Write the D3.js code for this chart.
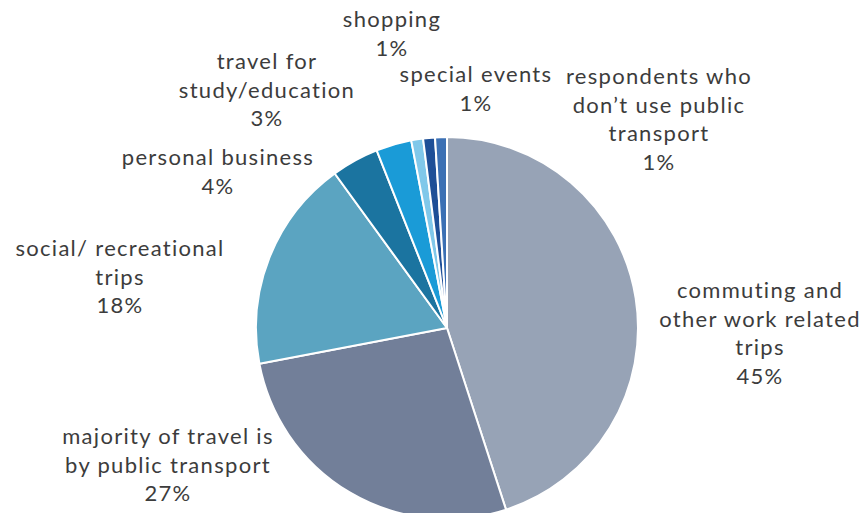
<!DOCTYPE html>
<html>
<head>
<meta charset="utf-8">
<script src="https://cdn.jsdelivr.net/npm/d3@7"></script>
<style>
  html, body { margin: 0; padding: 0; background: #ffffff; }
  svg { display: block; }
  .lbl { font-family: Lato, "Open Sans", sans-serif; font-size: 22px; letter-spacing: 1.3px; fill: #3c3c3c; }
</style>
</head>
<body>
<svg id="chart" width="864" height="513"></svg>
<script>
// Trip purposes, listed clockwise from 12 o'clock
const categories = [
  "commuting and other work related trips",
  "majority of travel is by public transport",
  "social/ recreational trips",
  "personal business",
  "travel for study/education",
  "shopping",
  "special events",
  "respondents who don't use public transport"
];
const values = [45, 27, 18, 4, 3, 1, 1, 1];
const colors = ["#97a3b6", "#727f99", "#5ba4c1", "#1b74a0", "#1a9bd7", "#80c8ea", "#1e4f97", "#3b70b4"];

// Wrapped label text for each category (percent line appended from values)
const labelLines = [
  ["commuting and", "other work related", "trips"],
  ["majority of travel is", "by public transport"],
  ["social/ recreational", "trips"],
  ["personal business"],
  ["travel for", "study/education"],
  ["shopping"],
  ["special events"],
  ["respondents who", "don\u2019t use public", "transport"]
];

// Label anchor (centre x, first baseline y)
const labelPos = [
  [760, 298], [168, 444], [120, 256], [218, 165],
  [267, 69], [392, 27], [476, 82], [659, 84]
];

const svg = d3.select("#chart");
const cx = 447, cy = 328, radius = 191;
const lineH = 28.6;

const pie = d3.pie().sort(null).value(d => d.value);
const arc = d3.arc().innerRadius(0).outerRadius(radius);
const color = d3.scaleOrdinal().domain(categories).range(colors);

const data = categories.map((c, i) => ({ name: c, value: values[i] }));

svg.append("g")
  .attr("transform", `translate(${cx},${cy})`)
  .selectAll("path")
  .data(pie(data))
  .join("path")
  .attr("d", arc)
  .attr("fill", d => color(d.data.name))
  .attr("stroke", "#ffffff")
  .attr("stroke-width", 2)
  .attr("stroke-linejoin", "round");

const labels = svg.append("g");
data.forEach((d, i) => {
  const lines = labelLines[i].concat([d.value + "%"]);
  const t = labels.append("text")
    .attr("class", "lbl")
    .attr("text-anchor", "middle")
    .attr("x", labelPos[i][0])
    .attr("y", labelPos[i][1]);
  lines.forEach((ln, j) => {
    t.append("tspan")
      .attr("x", labelPos[i][0])
      .attr("dy", j === 0 ? 0 : lineH)
      .text(ln);
  });
});
</script>
</body>
</html>
